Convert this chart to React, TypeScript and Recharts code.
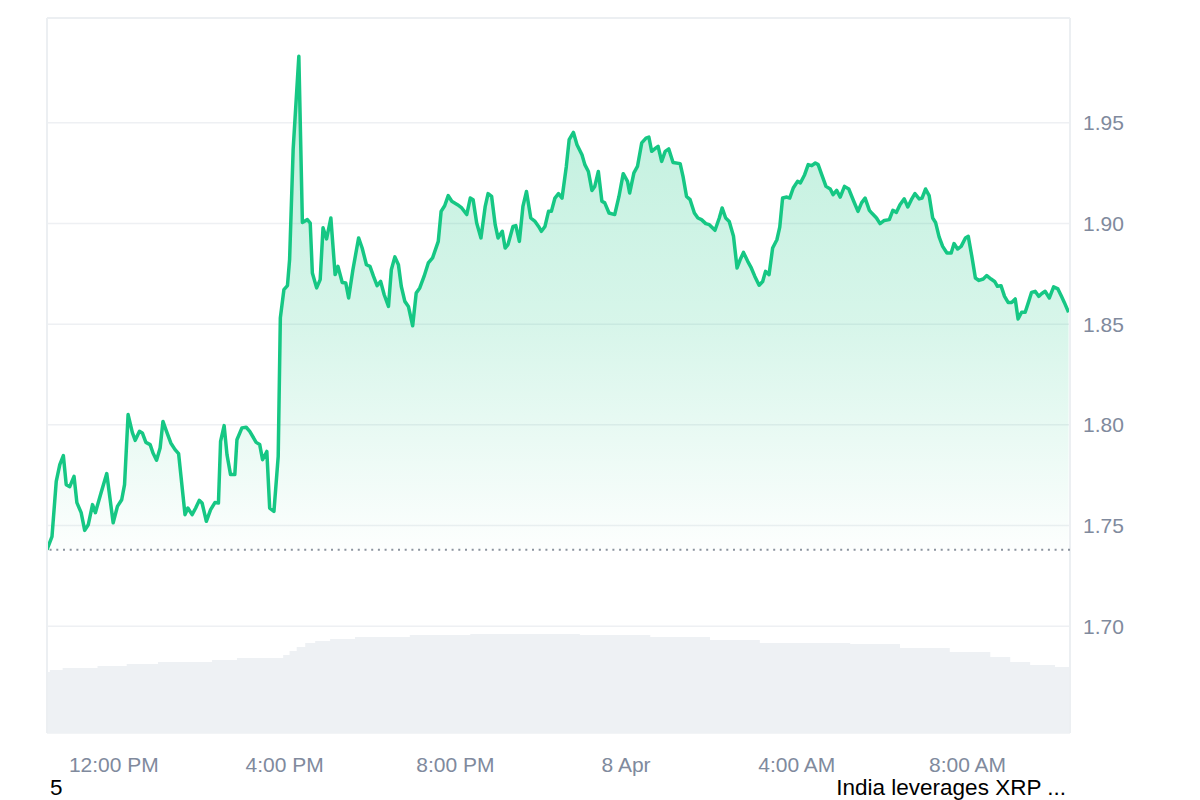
import React from 'react'
import { ComposedChart, Area, XAxis, YAxis, CartesianGrid, ReferenceLine } from 'recharts'

// minutes since midnight, 7 Apr
const priceTimes = [
  626, 633, 639, 644, 649, 653, 658, 664, 668, 674, 679, 684, 690, 694, 702, 710, 719, 725, 731, 735,
  740, 746, 750, 756, 760, 765, 771, 775, 780, 785, 789, 794, 800, 806, 811, 820, 824, 830, 835, 840,
  844, 850, 856, 862, 867, 870, 875, 879, 884, 890, 893, 900, 906, 911, 920, 925, 929, 935, 939, 945,
  951, 954, 959, 964, 967, 972, 980, 985, 992, 996, 999, 1005, 1010, 1014, 1019, 1025, 1031, 1035, 1041, 1046,
  1050, 1056, 1064, 1069, 1075, 1080, 1085, 1090, 1095, 1100, 1106, 1110, 1115, 1120, 1124, 1129, 1134, 1140, 1145, 1150,
  1156, 1162, 1168, 1176, 1180, 1185, 1190, 1195, 1203, 1209, 1216, 1221, 1225, 1230, 1236, 1242, 1246, 1251, 1256, 1260,
  1266, 1270, 1274, 1281, 1285, 1290, 1295, 1300, 1306, 1312, 1317, 1321, 1326, 1331, 1335, 1340, 1345, 1350, 1356, 1360,
  1366, 1371, 1378, 1382, 1387, 1392, 1396, 1401, 1406, 1410, 1416, 1424, 1430, 1436, 1442, 1445, 1451, 1456, 1462, 1468,
  1472, 1476, 1482, 1485, 1490, 1495, 1500, 1506, 1516, 1520, 1525, 1530, 1536, 1541, 1546, 1552, 1557, 1565, 1571, 1575,
  1580, 1585, 1591, 1596, 1600, 1605, 1611, 1616, 1621, 1627, 1632, 1636, 1641, 1646, 1652, 1656, 1660, 1666, 1670, 1675,
  1681, 1685, 1691, 1696, 1701, 1706, 1710, 1715, 1721, 1727, 1731, 1736, 1741, 1747, 1753, 1760, 1766, 1771, 1776, 1782,
  1786, 1792, 1797, 1803, 1810, 1815, 1820, 1825, 1831, 1836, 1841, 1846, 1852, 1856, 1861, 1866, 1871, 1875, 1880, 1885,
  1891, 1897, 1901, 1906, 1911, 1917, 1921, 1926, 1931, 1936, 1942, 1947, 1953, 1958, 1962, 1967, 1972, 1977, 1982, 1987,
  1991, 1996, 2001, 2006, 2010, 2015, 2020, 2024, 2029, 2035, 2041, 2047, 2052, 2056, 2062,
]

const priceValues = [
  1.738, 1.7445, 1.7719, 1.7802, 1.7847, 1.7703, 1.7693, 1.7744, 1.7614, 1.7564, 1.7476, 1.7504, 1.7604, 1.7564, 1.7663, 1.7758, 1.7514, 1.7595, 1.7628, 1.7703,
  1.8051, 1.7961, 1.7923, 1.7968, 1.796, 1.7913, 1.7902, 1.786, 1.7824, 1.7885, 1.8017, 1.7968, 1.791, 1.7877, 1.7857, 1.7554, 1.7587, 1.7554, 1.7587, 1.7625,
  1.7612, 1.7521, 1.7579, 1.7614, 1.7612, 1.7918, 1.7996, 1.7852, 1.7753, 1.7753, 1.7926, 1.7985, 1.7988, 1.7968, 1.7913, 1.7902, 1.7827, 1.7868, 1.7587, 1.757,
  1.7844, 1.8531, 1.8671, 1.8691, 1.882, 1.9366, 1.983, 1.9005, 1.9019, 1.9002, 1.8754, 1.868, 1.8721, 1.8978, 1.8923, 1.9027, 1.8746, 1.8787, 1.8707, 1.8704,
  1.863, 1.877, 1.8928, 1.8878, 1.8795, 1.8787, 1.8737, 1.8691, 1.8712, 1.8646, 1.8588, 1.877, 1.8834, 1.8795, 1.8688, 1.8613, 1.8588, 1.8492, 1.8655, 1.868,
  1.8737, 1.8804, 1.8829, 1.8911, 1.906, 1.9088, 1.9138, 1.911, 1.9093, 1.9077, 1.9044, 1.9126, 1.9118, 1.9002, 1.8928, 1.9085, 1.9148, 1.9134, 1.8994, 1.8928,
  1.8961, 1.8878, 1.8895, 1.8985, 1.8989, 1.8911, 1.9085, 1.9159, 1.9027, 1.901, 1.8985, 1.8961, 1.8985, 1.906, 1.906, 1.9126, 1.9148, 1.9126, 1.9283, 1.9416,
  1.9452, 1.9391, 1.9341, 1.9292, 1.9258, 1.9164, 1.9184, 1.9258, 1.911, 1.9102, 1.9052, 1.9044, 1.9134, 1.9247, 1.9209, 1.9151, 1.9251, 1.9283, 1.94, 1.9424,
  1.9429, 1.9358, 1.9375, 1.9383, 1.9308, 1.9358, 1.937, 1.9303, 1.9297, 1.9234, 1.9134, 1.9118, 1.9052, 1.9027, 1.9019, 1.8999, 1.8994, 1.8966, 1.9027, 1.9077,
  1.9027, 1.901, 1.8936, 1.8779, 1.8817, 1.8856, 1.8812, 1.8779, 1.8737, 1.8693, 1.8712, 1.8762, 1.8746, 1.8878, 1.8919, 1.8982, 1.9126, 1.9131, 1.9126, 1.9176,
  1.9209, 1.9201, 1.9242, 1.9292, 1.9287, 1.93, 1.9292, 1.9242, 1.9184, 1.9171, 1.9143, 1.9164, 1.9131, 1.9184, 1.9171, 1.911, 1.906, 1.9102, 1.9126, 1.9065,
  1.9049, 1.9027, 1.8999, 1.9015, 1.9019, 1.9065, 1.9055, 1.9093, 1.9122, 1.9082, 1.9118, 1.9148, 1.9122, 1.9126, 1.9171, 1.9138, 1.9027, 1.9005, 1.8933, 1.8886,
  1.8853, 1.8853, 1.89, 1.8873, 1.8886, 1.8928, 1.8936, 1.8837, 1.8729, 1.8717, 1.8724, 1.8741, 1.8724, 1.8712, 1.8688, 1.8691, 1.8638, 1.8608, 1.8608, 1.8625,
  1.8526, 1.8559, 1.8559, 1.8613, 1.8658, 1.8663, 1.8638, 1.8651, 1.8663, 1.863, 1.8685, 1.8675, 1.8638, 1.8608, 1.8559,
]

// volume, billions
const volumeTimes = [
  626, 630, 648, 697, 738, 782, 858, 893, 949, 958, 967, 977, 989, 1003, 1024, 1059,
  1136, 1221, 1305, 1375, 1474, 1558, 1628, 1755, 1825, 1895, 1952, 1980, 2008, 2043, 2064,
]
const volumeValues = [
  4.27, 4.41, 4.55, 4.69, 4.83, 4.97, 5.11, 5.25, 5.25, 5.46, 5.74, 6.02, 6.3, 6.44, 6.58, 6.72,
  6.86, 6.93, 6.93, 6.86, 6.72, 6.51, 6.3, 6.23, 5.95, 5.67, 5.32, 4.97, 4.76, 4.62, 4.55,
]

const openPrice = 1.738
const priceTicks = [1.7, 1.75, 1.8, 1.85, 1.9, 1.95]
const timeTicks = [720, 960, 1200, 1440, 1680, 1920]
const timeLabels = ['12:00 PM', '4:00 PM', '8:00 PM', '8 Apr', '4:00 AM', '8:00 AM']

const n = Math.min(priceTimes.length, priceValues.length)
const priceData = priceTimes.slice(0, n).map((t, i) => ({ t, price: priceValues[i] }))
const volumeData = volumeTimes.map((t, i) => ({ t, volume: volumeValues[i] }))

const X_DOMAIN: [number, number] = [626, 2064]
const Y_DOMAIN: [number, number] = [1.647, 2.002]

const font = '"Liberation Sans", Arial, sans-serif'
const axisColor = '#808a9d'
const borderColor = '#eceff2'

const App = () => {
  return (
    <div style={{ position: 'absolute', left: 0, top: 0, width: 1200, height: 800, background: '#fff', fontFamily: font }}>
      <ComposedChart width={1200} height={800} margin={{ top: 18, left: 47, right: 0, bottom: 0 }}>
        <defs>
          <linearGradient id="priceFill" x1="0" y1="0" x2="0" y2="1">
            <stop offset="0%" stopColor="#16c784" stopOpacity={0.28} />
            <stop offset="55%" stopColor="#16c784" stopOpacity={0.17} />
            <stop offset="100%" stopColor="#16c784" stopOpacity={0.01} />
          </linearGradient>
        </defs>
        <CartesianGrid horizontal vertical={false} stroke="#eef0f3" strokeWidth={1.5} yAxisId="price" />
        <XAxis
          dataKey="t"
          type="number"
          domain={X_DOMAIN}
          allowDataOverflow
          ticks={timeTicks}
          tickFormatter={(v: number) => timeLabels[timeTicks.indexOf(v)] ?? ''}
          axisLine={false}
          tickLine={false}
          tickSize={0}
          tickMargin={24}
          height={67}
          tick={{ fill: axisColor, fontSize: 21, fontFamily: font }}
        />
        <YAxis
          yAxisId="price"
          orientation="right"
          type="number"
          domain={Y_DOMAIN}
          allowDataOverflow
          ticks={priceTicks}
          tickFormatter={(v: number) => v.toFixed(2)}
          axisLine={false}
          tickLine={false}
          tickSize={0}
          tickMargin={13}
          width={130}
          tick={{ fill: axisColor, fontSize: 21, fontFamily: font }}
        />
        <YAxis yAxisId="vol" hide domain={[0, 50]} />
        <Area
          yAxisId="vol"
          data={volumeData}
          dataKey="volume"
          type="stepAfter"
          stroke="none"
          fill="#eef1f4"
          fillOpacity={1}
          isAnimationActive={false}
          dot={false}
          activeDot={false}
        />
        <ReferenceLine yAxisId="price" y={Y_DOMAIN[1]} stroke={borderColor} strokeWidth={2} />
        <ReferenceLine yAxisId="price" x={X_DOMAIN[0]} stroke={borderColor} strokeWidth={2} />
        <ReferenceLine yAxisId="price" x={X_DOMAIN[1]} stroke={borderColor} strokeWidth={2} />
        <Area
          yAxisId="price"
          data={priceData}
          dataKey="price"
          type="linear"
          baseValue={openPrice}
          stroke="#16c784"
          strokeWidth={3.5}
          strokeLinejoin="round"
          fill="url(#priceFill)"
          fillOpacity={1}
          isAnimationActive={false}
          dot={false}
          activeDot={false}
        />
        <ReferenceLine yAxisId="price" y={openPrice} stroke="#8b939e" strokeWidth={2} strokeDasharray="2 4.7" />
      </ComposedChart>
      <div style={{ position: 'absolute', left: 50, top: 775, fontSize: 22.5, color: '#000' }}>5</div>
      <div style={{ position: 'absolute', right: 134, top: 775, fontSize: 22.5, color: '#000' }}>India leverages XRP ...</div>
    </div>
  )
}

export default App
